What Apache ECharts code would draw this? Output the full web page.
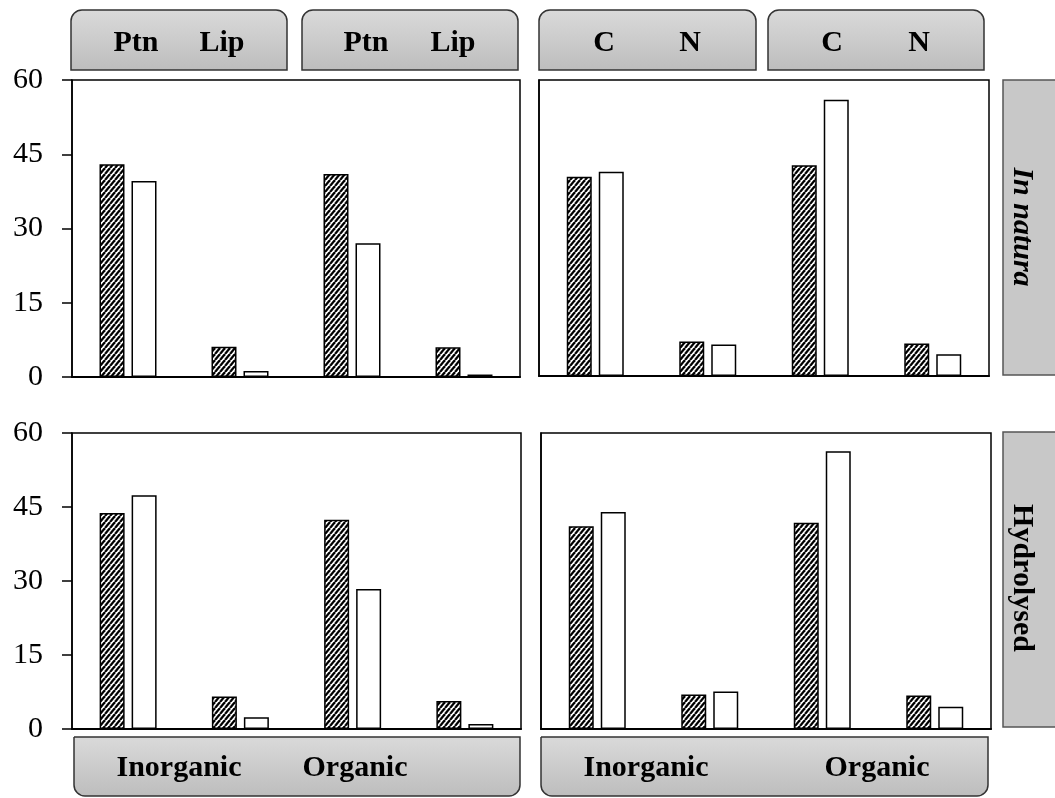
<!DOCTYPE html>
<html>
<head>
<meta charset="utf-8">
<title>Composition bars</title>
<script src="https://cdn.jsdelivr.net/npm/echarts@6/dist/echarts.min.js"></script>
<style>
  html, body { margin: 0; padding: 0; background: #fff; }
  #chart { width: 1055px; height: 798px; }
</style>
</head>
<body>
<div id="chart"></div>
<script>
// Categories along each panel's x axis (two pairs per panel)
const catsPtnLip = ['Inorganic Ptn', 'Inorganic Lip', 'Organic Ptn', 'Organic Lip'];
const catsCN = ['Inorganic C', 'Inorganic N', 'Organic C', 'Organic N'];
const yTicks = [0, 15, 30, 45, 60];

// In natura
const natPtnLipHatched = [43.0, 6.1, 41.0, 6.0];
const natPtnLipPlain   = [39.6, 1.2, 27.0, 0.5];
const natCNHatched     = [40.4, 7.0, 42.7, 6.6];
const natCNPlain       = [41.4, 6.4, 56.0, 4.4];

// Hydrolysed
const hydPtnLipHatched = [43.8, 6.6, 42.4, 5.7];
const hydPtnLipPlain   = [47.4, 2.4, 28.4, 1.0];
const hydCNHatched     = [41.1, 7.0, 41.8, 6.8];
const hydCNPlain       = [44.0, 7.6, 56.3, 4.5];

// Strip labels
const topStripLabels = [['Ptn', 'Lip'], ['Ptn', 'Lip'], ['C', 'N'], ['C', 'N']];
const sideStripLabels = ['In natura', 'Hydrolysed'];
const bottomStripLabels = ['Inorganic', 'Organic'];

// Diagonal hatch tile (rising to the right)
function hatchTile() {
  const w = 5, h = 6;
  const c = document.createElement('canvas');
  c.width = w; c.height = h;
  const g = c.getContext('2d');
  g.fillStyle = '#fff';
  g.fillRect(0, 0, w, h);
  g.strokeStyle = '#000';
  g.lineWidth = 2.3;
  for (let k = -w; k <= w; k += w) {
    g.beginPath();
    g.moveTo(k, h);
    g.lineTo(k + w, 0);
    g.stroke();
  }
  return c;
}
const hatchFill = { image: hatchTile(), repeat: 'repeat' };

const serif = '"Liberation Serif", "Times New Roman", serif';
const chart = echarts.init(document.getElementById('chart'), null, { renderer: 'canvas' });

const grids = [
  { left: 72, top: 80, width: 448, height: 297 },
  { left: 539, top: 80, width: 450, height: 296 },
  { left: 72, top: 433, width: 449, height: 296 },
  { left: 541, top: 433, width: 450, height: 296 }
];
const panelCats = [catsPtnLip, catsCN, catsPtnLip, catsCN];
const panelData = [
  [natPtnLipHatched, natPtnLipPlain],
  [natCNHatched, natCNPlain],
  [hydPtnLipHatched, hydPtnLipPlain],
  [hydCNHatched, hydCNPlain]
];

const xAxes = grids.map((g, i) => ({
  type: 'category',
  gridIndex: i,
  data: panelCats[i],
  axisLine: { show: true, lineStyle: { color: '#000', width: 2 } },
  axisTick: { show: false },
  axisLabel: { show: false },
  splitLine: { show: false }
}));

const yAxes = grids.map((g, i) => {
  const left = i % 2 === 0;
  return {
    type: 'value',
    gridIndex: i,
    min: yTicks[0],
    max: yTicks[yTicks.length - 1],
    interval: yTicks[1] - yTicks[0],
    axisLine: { show: true, lineStyle: { color: '#000', width: 1.5 } },
    axisTick: { show: left, inside: false, length: 10, lineStyle: { color: '#000', width: 1.5 } },
    axisLabel: {
      show: left, margin: 29, color: '#000',
      fontFamily: serif, fontSize: 30
    },
    splitLine: { show: false }
  };
});

const series = [];
panelData.forEach((pair, i) => {
  series.push({
    type: 'bar', name: 'hatched', xAxisIndex: i, yAxisIndex: i,
    data: pair[0], barWidth: 25, barGap: '28%',
    itemStyle: { color: hatchFill, borderColor: '#000', borderWidth: 1.5 },
    silent: true, animation: false
  });
  series.push({
    type: 'bar', name: 'plain', xAxisIndex: i, yAxisIndex: i,
    data: pair[1], barWidth: 25, barGap: '28%',
    itemStyle: { color: '#fff', borderColor: '#000', borderWidth: 1.5 },
    silent: true, animation: false
  });
});

// Strip boxes and their labels
const stripGrad = (x1, y1, x2, y2) => new echarts.graphic.LinearGradient(x1, y1, x2, y2, [
  { offset: 0, color: '#dadada' },
  { offset: 1, color: '#bdbdbd' }
]);
const labelFont = 'bold 30px ' + serif;

const graphic = [];
const topBoxes = [
  { x: 71, w: 216, t: [136, 222] },
  { x: 302, w: 216, t: [366, 453] },
  { x: 539, w: 217, t: [604, 690] },
  { x: 768, w: 216, t: [832, 919] }
];
topBoxes.forEach((b, i) => {
  graphic.push({
    type: 'rect', silent: true,
    shape: { x: b.x, y: 10, width: b.w, height: 60, r: [11, 11, 0, 0] },
    style: { fill: stripGrad(0, 0, 0, 1), stroke: '#333', lineWidth: 1.5 }
  });
  topStripLabels[i].forEach((txt, j) => {
    graphic.push({
      type: 'text', silent: true, x: b.t[j], y: 43,
      style: { text: txt, font: labelFont, fill: '#000', align: 'center', verticalAlign: 'middle' }
    });
  });
});

const sideBoxes = [{ y: 80, h: 295, cy: 227 }, { y: 432, h: 295, cy: 578 }];
sideBoxes.forEach((b, i) => {
  graphic.push({
    type: 'rect', silent: true,
    shape: { x: 1003, y: b.y, width: 70, height: b.h },
    style: { fill: '#c8c8c8', stroke: '#555', lineWidth: 1.5 }
  });
  graphic.push({
    type: 'text', silent: true, x: 1022, y: b.cy, rotation: -Math.PI / 2,
    style: {
      text: sideStripLabels[i],
      font: (i === 0 ? 'italic ' : '') + labelFont,
      fill: '#000', align: 'center', verticalAlign: 'middle'
    }
  });
});

const bottomBoxes = [
  { x: 74, w: 446, t: [179, 355] },
  { x: 541, w: 447, t: [646, 877] }
];
bottomBoxes.forEach(b => {
  graphic.push({
    type: 'rect', silent: true,
    shape: { x: b.x, y: 737, width: b.w, height: 59, r: [0, 0, 11, 11] },
    style: { fill: stripGrad(0, 0, 0, 1), stroke: '#333', lineWidth: 1.5 }
  });
  bottomStripLabels.forEach((txt, j) => {
    graphic.push({
      type: 'text', silent: true, x: b.t[j], y: 768,
      style: { text: txt, font: labelFont, fill: '#000', align: 'center', verticalAlign: 'middle' }
    });
  });
});

chart.setOption({
  animation: false,
  backgroundColor: '#fff',
  grid: grids.map(g => Object.assign({ show: true, borderColor: '#000', borderWidth: 1.5, containLabel: false }, g)),
  xAxis: xAxes,
  yAxis: yAxes,
  series: series,
  graphic: graphic
});
</script>
</body>
</html>
